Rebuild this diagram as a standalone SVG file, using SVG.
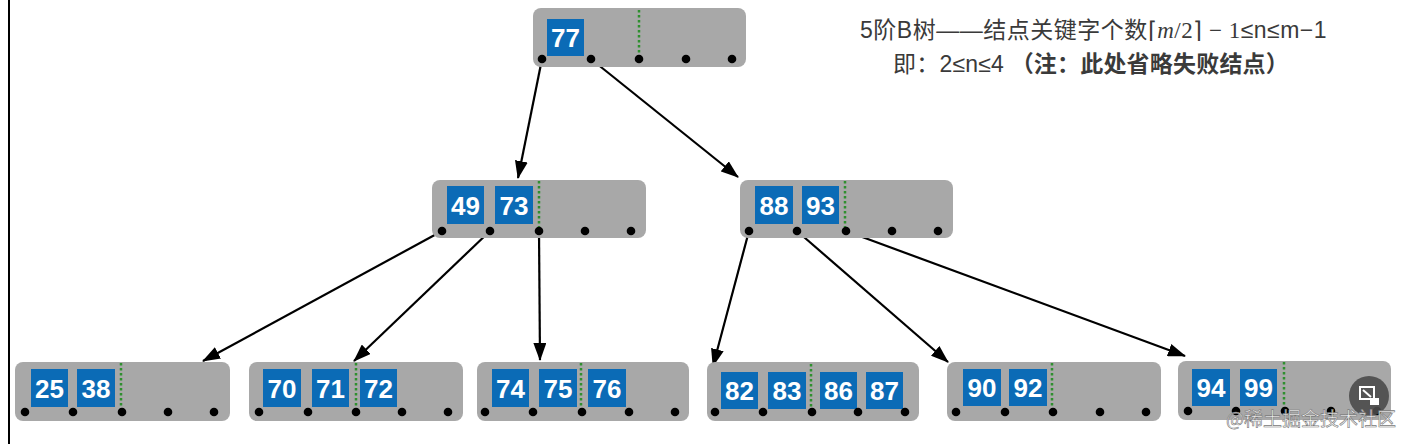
<svg xmlns="http://www.w3.org/2000/svg" width="1402" height="444" viewBox="0 0 1402 444">
<style>
.box{fill:#a8a8a8}
.key{fill:#0b6bb6}
.kt{font-family:"Liberation Sans",Arial,sans-serif;font-size:26px;font-weight:bold;fill:#ffffff;text-anchor:middle}
.dot{fill:#000}
.sep{stroke:#2f8f2f;stroke-width:2.5;stroke-dasharray:2.5 2.5}
.edge{stroke:#000;stroke-width:2.2;fill:none}
.t{font-family:"Liberation Sans","Noto Sans CJK SC",sans-serif;font-size:23px;fill:#3a3a3a}
</style>
<defs>
<marker id="ah" markerWidth="18" markerHeight="13" refX="17" refY="6.5" orient="auto" markerUnits="userSpaceOnUse">
<path d="M0,0 L18,6.5 L0,13 Z" fill="#000"/>
</marker>
</defs>
<rect width="1402" height="444" fill="#fff"/>
<line x1="9" y1="0" x2="9" y2="444" stroke="#000" stroke-width="2"/>

<g id="title">
<text class="t" x="860" y="38" letter-spacing="0.5">5阶B树——结点关键字个数<tspan font-family="'Liberation Serif',serif" font-size="23">⌈<tspan font-style="italic">m</tspan>/2⌉ − 1</tspan>≤n≤m−1</text>
<text class="t" x="893" y="72" letter-spacing="0.2">即：2≤n≤4 <tspan font-weight="bold">（注：此处省略失败结点）</tspan></text>
</g>

<g id="edges">
<line class="edge" x1="542" y1="59" x2="518" y2="178" marker-end="url(#ah)"/>
<line class="edge" x1="591" y1="59" x2="738" y2="177" marker-end="url(#ah)"/>
<line class="edge" x1="442" y1="231" x2="203" y2="361" marker-end="url(#ah)"/>
<line class="edge" x1="490" y1="231" x2="354" y2="361" marker-end="url(#ah)"/>
<line class="edge" x1="539" y1="231" x2="540" y2="360" marker-end="url(#ah)"/>
<line class="edge" x1="749" y1="231" x2="713" y2="366" marker-end="url(#ah)"/>
<line class="edge" x1="797" y1="231" x2="948" y2="362" marker-end="url(#ah)"/>
<line class="edge" x1="846" y1="231" x2="1185" y2="356" marker-end="url(#ah)"/>
</g>

<g id="root">
<rect class="box" x="533" y="8" width="213" height="59" rx="8"/>
<rect class="key" x="547" y="19" width="37" height="37"/>
<text class="kt" x="565.5" y="47">77</text>
<line class="sep" x1="639" y1="10" x2="639" y2="56"/>
<circle class="dot" cx="542" cy="59" r="4.3"/><circle class="dot" cx="591" cy="59" r="4.3"/><circle class="dot" cx="639" cy="59" r="4.3"/><circle class="dot" cx="686" cy="59" r="4.3"/><circle class="dot" cx="732" cy="59" r="4.3"/>
</g>

<g id="n4973">
<rect class="box" x="432" y="180" width="214" height="58" rx="8"/>
<rect class="key" x="447" y="186" width="37" height="38"/>
<text class="kt" x="465.5" y="214.5">49</text>
<rect class="key" x="495" y="186" width="38" height="38"/>
<text class="kt" x="514" y="214.5">73</text>
<line class="sep" x1="539" y1="181" x2="539" y2="227"/>
<circle class="dot" cx="442" cy="231" r="4.3"/><circle class="dot" cx="490" cy="231" r="4.3"/><circle class="dot" cx="539" cy="231" r="4.3"/><circle class="dot" cx="585" cy="231" r="4.3"/><circle class="dot" cx="631" cy="231" r="4.3"/>
</g>

<g id="n8893">
<rect class="box" x="740" y="180" width="213" height="58" rx="8"/>
<rect class="key" x="755" y="186" width="38" height="38"/>
<text class="kt" x="774" y="214.5">88</text>
<rect class="key" x="802" y="186" width="37" height="38"/>
<text class="kt" x="820.5" y="214.5">93</text>
<line class="sep" x1="845" y1="181" x2="845" y2="227"/>
<circle class="dot" cx="749" cy="231" r="4.3"/><circle class="dot" cx="797" cy="231" r="4.3"/><circle class="dot" cx="846" cy="231" r="4.3"/><circle class="dot" cx="892" cy="231" r="4.3"/><circle class="dot" cx="938" cy="231" r="4.3"/>
</g>

<g id="n2538">
<rect class="box" x="15" y="362" width="215" height="59" rx="8"/>
<rect class="key" x="31" y="369" width="37" height="38"/>
<text class="kt" x="49.5" y="397.5">25</text>
<rect class="key" x="77" y="369" width="38" height="38"/>
<text class="kt" x="96" y="397.5">38</text>
<line class="sep" x1="121" y1="363" x2="121" y2="409"/>
<circle class="dot" cx="25" cy="412" r="4.3"/><circle class="dot" cx="73" cy="412" r="4.3"/><circle class="dot" cx="122" cy="412" r="4.3"/><circle class="dot" cx="168" cy="412" r="4.3"/><circle class="dot" cx="214" cy="412" r="4.3"/>
</g>

<g id="n707172">
<rect class="box" x="249" y="362" width="214" height="59" rx="8"/>
<rect class="key" x="263" y="369" width="38" height="38"/>
<text class="kt" x="282" y="397.5">70</text>
<rect class="key" x="312" y="369" width="37" height="38"/>
<text class="kt" x="330.5" y="397.5">71</text>
<rect class="key" x="360" y="369" width="37" height="38"/>
<text class="kt" x="378.5" y="397.5">72</text>
<line class="sep" x1="356" y1="363" x2="356" y2="409"/>
<circle class="dot" cx="259" cy="412" r="4.3"/><circle class="dot" cx="308" cy="412" r="4.3"/><circle class="dot" cx="356" cy="412" r="4.3"/><circle class="dot" cx="402" cy="412" r="4.3"/><circle class="dot" cx="448" cy="412" r="4.3"/>
</g>

<g id="n747576">
<rect class="box" x="477" y="362" width="212" height="59" rx="8"/>
<rect class="key" x="492" y="369" width="37" height="38"/>
<text class="kt" x="510.5" y="397.5">74</text>
<rect class="key" x="539" y="369" width="38" height="38"/>
<text class="kt" x="558" y="397.5">75</text>
<rect class="key" x="588" y="369" width="38" height="38"/>
<text class="kt" x="607" y="397.5">76</text>
<line class="sep" x1="581" y1="363" x2="581" y2="409"/>
<circle class="dot" cx="485" cy="412" r="4.3"/><circle class="dot" cx="533" cy="412" r="4.3"/><circle class="dot" cx="582" cy="412" r="4.3"/><circle class="dot" cx="629" cy="412" r="4.3"/><circle class="dot" cx="675" cy="412" r="4.3"/>
</g>

<g id="n82838687">
<rect class="box" x="707" y="362" width="212" height="59" rx="8"/>
<rect class="key" x="721" y="372" width="37" height="37"/>
<text class="kt" x="739.5" y="400">82</text>
<rect class="key" x="768" y="372" width="38" height="37"/>
<text class="kt" x="787" y="400">83</text>
<rect class="key" x="820" y="372" width="37" height="37"/>
<text class="kt" x="838.5" y="400">86</text>
<rect class="key" x="866" y="372" width="37" height="37"/>
<text class="kt" x="884.5" y="400">87</text>
<line class="sep" x1="811" y1="364" x2="811" y2="409"/>
<circle class="dot" cx="715" cy="412" r="4.3"/><circle class="dot" cx="763" cy="412" r="4.3"/><circle class="dot" cx="812" cy="412" r="4.3"/><circle class="dot" cx="858" cy="412" r="4.3"/><circle class="dot" cx="905" cy="412" r="4.3"/>
</g>

<g id="n9092">
<rect class="box" x="947" y="362" width="214" height="59" rx="8"/>
<rect class="key" x="963" y="369" width="38" height="37"/>
<text class="kt" x="982" y="397">90</text>
<rect class="key" x="1009" y="369" width="38" height="37"/>
<text class="kt" x="1028" y="397">92</text>
<line class="sep" x1="1052" y1="363" x2="1052" y2="408"/>
<circle class="dot" cx="956" cy="412" r="4.3"/><circle class="dot" cx="1005" cy="412" r="4.3"/><circle class="dot" cx="1053" cy="412" r="4.3"/><circle class="dot" cx="1100" cy="412" r="4.3"/><circle class="dot" cx="1146" cy="412" r="4.3"/>
</g>

<g id="n9499">
<rect class="box" x="1178" y="361" width="213" height="59" rx="8"/>
<rect class="key" x="1192" y="369" width="38" height="37"/>
<text class="kt" x="1211" y="397">94</text>
<rect class="key" x="1240" y="369" width="37" height="37"/>
<text class="kt" x="1258.5" y="397">99</text>
<line class="sep" x1="1284" y1="362" x2="1284" y2="408"/>
<circle class="dot" cx="1188" cy="411" r="4.3"/><circle class="dot" cx="1236" cy="411" r="4.3"/><circle class="dot" cx="1285" cy="411" r="4.3"/><circle class="dot" cx="1331" cy="411" r="4.3"/><circle class="dot" cx="1377" cy="411" r="4.3"/>
</g>

<g id="overlay">
<circle cx="1369" cy="396" r="20" fill="#4a4a4a" opacity="0.9"/>
<rect x="1360" y="387" width="14" height="12" fill="none" stroke="#fff" stroke-width="2"/>
<line x1="1363" y1="390" x2="1371" y2="397" stroke="#fff" stroke-width="2"/>
<rect x="1370" y="398" width="9" height="7" fill="#fff"/>
<text x="1226" y="426" font-family="'Noto Sans CJK SC',sans-serif" font-size="19" fill="#ffffff" fill-opacity="0.85" stroke="#777" stroke-width="0.6">@稀土掘金技术社区</text>
</g>
</svg>
